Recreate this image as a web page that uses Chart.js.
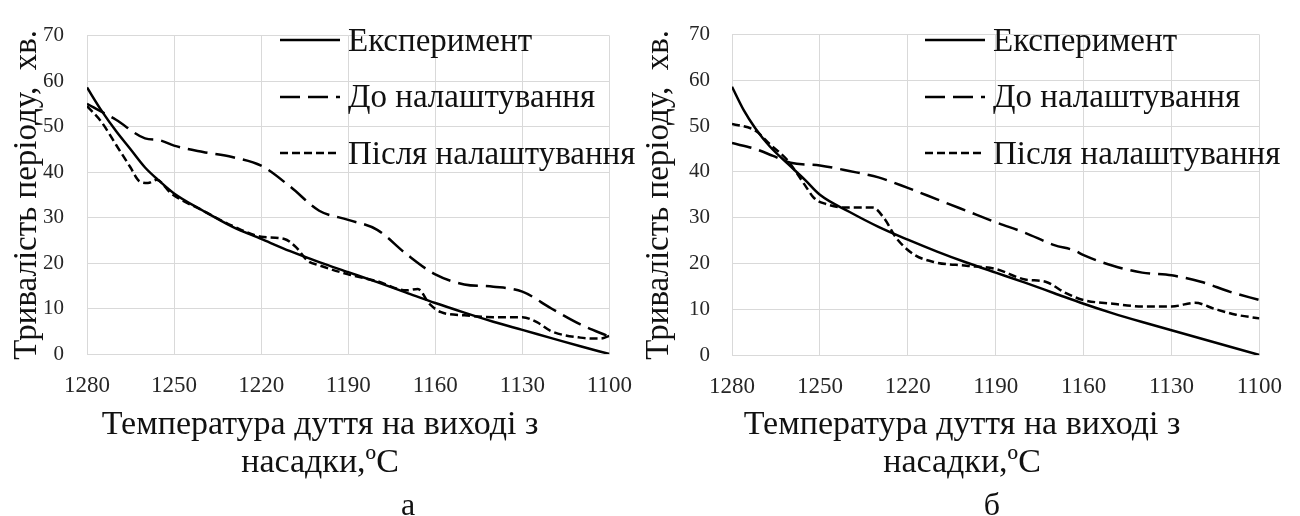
<!DOCTYPE html>
<html lang="uk">
<head>
<meta charset="UTF-8">
<title>Тривалість періоду</title>
<script src="https://cdn.jsdelivr.net/npm/chart.js"></script>
<style>
  body { margin: 0; background: #fff; }
  .page { position: relative; width: 1300px; height: 516px; overflow: hidden;
          font-family: "Liberation Serif", "Times New Roman", serif; color: #111; }
  .panel { position: absolute; top: 0; height: 516px; }
  .legend { position: absolute; top: 12px; }
  .legend .row { display: flex; align-items: center; height: 56.5px; }
  .legend svg { margin-right: 8px; }
  .legend span { font-size: 33px; white-space: nowrap; }
  .xtitle { position: absolute; width: 600px; text-align: center; font-size: 34px; line-height: 38px; }
  .caption { position: absolute; width: 100px; text-align: center; font-size: 32px; line-height: 32px; }
</style>
</head>
<body>
<div class="page">
  <div class="panel" style="left:0; width:650px"><canvas id="chartA"></canvas></div>
  <div class="panel" style="left:640px; width:660px"><canvas id="chartB"></canvas></div>

  <div class="legend" id="legendA" style="left:280px"></div>
  <div class="legend" id="legendB" style="left:925px"></div>

  <div class="xtitle" style="left:20px; top:404px">Температура дуття на виході з<br>насадки,ºC</div>
  <div class="xtitle" style="left:662px; top:404px">Температура дуття на виході з<br>насадки,ºC</div>
  <div class="caption" style="left:358px; top:488px">а</div>
  <div class="caption" style="left:942px; top:488px">б</div>
</div>

<script>
  const seriesNames = ["Експеримент", "До налаштування", "Після налаштування"];
  const yTitle = "Тривалість періоду,  хв.";
  const xTicks = [1280, 1250, 1220, 1190, 1160, 1130, 1100];
  const yTicks = [0, 10, 20, 30, 40, 50, 60, 70];

  // а
  const tempExpA = [1280, 1275, 1270, 1265, 1260, 1255, 1250, 1240, 1230, 1220, 1210, 1200, 1190, 1180, 1170, 1160, 1150, 1140, 1130, 1120, 1110, 1100];
  const expA = [58.6, 53.5, 49, 45, 41, 38, 35.3, 31.5, 28, 25.3, 22.6, 20.2, 18, 15.8, 13.5, 11.2, 9.1, 7.1, 5.3, 3.5, 1.7, 0];
  const tempBeforeA = [1280, 1270, 1260, 1255, 1250, 1240, 1230, 1220, 1210, 1200, 1190, 1180, 1170, 1160, 1150, 1140, 1130, 1120, 1110, 1100];
  const beforeA = [55, 51.5, 47.4, 47, 45.8, 44.4, 43.3, 41.4, 36.8, 31.5, 29.5, 27.3, 22, 17.5, 15.3, 14.8, 13.7, 10, 6.5, 3.8];
  const tempAfterA = [1280, 1275, 1270, 1265, 1262, 1259, 1256, 1251, 1240, 1230, 1220, 1212, 1208, 1204, 1200, 1190, 1180, 1170, 1166, 1162, 1158, 1150, 1140, 1130, 1125, 1120, 1110, 1103, 1100];
  const afterA = [54.5, 51, 46, 41, 38, 37.6, 38.3, 35.3, 31.5, 28.2, 25.8, 25.3, 23.5, 20.5, 19.5, 17.5, 16, 14, 14.3, 11, 9.2, 8.5, 8.1, 8.1, 7, 5, 3.6, 3.4, 4];

  // б
  const tempExpB = [1280, 1276, 1272, 1267, 1261, 1255, 1250, 1240, 1230, 1220, 1210, 1200, 1190, 1180, 1170, 1160, 1150, 1140, 1130, 1120, 1110, 1100];
  const expB = [58.6, 53.5, 49.5, 45.5, 41.8, 38.2, 35, 31.3, 28, 25.2, 22.6, 20.2, 18, 15.8, 13.5, 11.2, 9.1, 7.2, 5.4, 3.6, 1.8, 0];
  const tempBeforeB = [1280, 1272, 1266, 1260, 1250, 1240, 1230, 1220, 1210, 1200, 1190, 1180, 1170, 1163, 1160, 1150, 1140, 1130, 1120, 1110, 1100];
  const beforeB = [46.3, 45, 43.5, 42, 41.4, 40.2, 38.8, 36.5, 34, 31.5, 29, 26.7, 24, 22.8, 21.8, 19.5, 18, 17.4, 16, 13.8, 12];
  const tempAfterB = [1280, 1272, 1267, 1261, 1255, 1252, 1248, 1241, 1232, 1228, 1224, 1218, 1211, 1200, 1190, 1180, 1173, 1166, 1160, 1150, 1140, 1130, 1122, 1115, 1108, 1100];
  const afterB = [50.5, 49, 46, 42.5, 37, 34.3, 33, 32.2, 32.2, 29.8, 25.6, 22, 20.3, 19.5, 18.8, 16.5, 16, 13.5, 12, 11.2, 10.6, 10.6, 11.4, 10, 8.8, 8];

  const dashes = [[], [20, 8], [8, 4]];

  function toPoints(xs, ys) {
    return xs.map((x, i) => ({ x: x, y: ys[i] }));
  }

  function makeDatasets(series) {
    return series.map((s, i) => ({
      label: seriesNames[i],
      data: toPoints(s[0], s[1]),
      borderColor: "#000",
      borderWidth: 2.5,
      borderDash: dashes[i],
      pointRadius: 0,
      fill: false,
      cubicInterpolationMode: "monotone",
    }));
  }

  function makeLegend(id) {
    const box = document.getElementById(id);
    seriesNames.forEach((name, i) => {
      const row = document.createElement("div");
      row.className = "row";
      row.innerHTML =
        '<svg width="60" height="6"><line x1="0" y1="3" x2="60" y2="3" stroke="#000" stroke-width="2.5" stroke-dasharray="' +
        (dashes[i].length ? dashes[i].join(",") : "none") + '"/></svg><span>' + name + "</span>";
      box.appendChild(row);
    });
  }

  function makeChart(id, series, o) {
    const font = { family: "Liberation Serif" };
    new Chart(document.getElementById(id), {
      type: "line",
      data: { datasets: makeDatasets(series) },
      options: {
        responsive: true,
        maintainAspectRatio: false,
        animation: false,
        layout: { padding: { top: 23, right: o.right, bottom: 0, left: 0 } },
        plugins: { legend: { display: false }, tooltip: { enabled: false } },
        scales: {
          x: {
            type: "linear",
            reverse: true,
            min: 1100,
            max: 1280,
            afterBuildTicks: (s) => { s.ticks = xTicks.map((v) => ({ value: v })); },
            afterFit: (s) => { s.height = o.xh; },
            grid: { color: "#d9d9d9", drawTicks: false },
            border: { color: "#d9d9d9" },
            ticks: {
              padding: 18, color: "#262626", maxRotation: 0, autoSkip: false,
              font: { ...font, size: 23 },
              callback: (v) => String(v),
            },
          },
          y: {
            min: 0,
            max: 70,
            afterBuildTicks: (s) => { s.ticks = yTicks.map((v) => ({ value: v })); },
            afterFit: (s) => { s.width = o.yw; },
            grid: { color: "#d9d9d9", drawTicks: false },
            border: { color: "#d9d9d9" },
            ticks: { padding: o.tickPad, color: "#262626", font: { ...font, size: 21 } },
            title: {
              display: true,
              text: yTitle,
              color: "#111",
              font: { ...font, size: 33, lineHeight: 1 },
              padding: { top: o.titlePad, bottom: 0 },
            },
          },
        },
      },
    });
  }

  makeChart("chartA", [[tempExpA, expA], [tempBeforeA, beforeA], [tempAfterA, afterA]],
    { right: 33, xh: 162, yw: 87, tickPad: 23, titlePad: 11 });
  makeChart("chartB", [[tempExpB, expB], [tempBeforeB, beforeB], [tempAfterB, afterB]],
    { right: 37, xh: 161, yw: 92, tickPad: 22, titlePad: 3 });

  makeLegend("legendA");
  makeLegend("legendB");
</script>
</body>
</html>
